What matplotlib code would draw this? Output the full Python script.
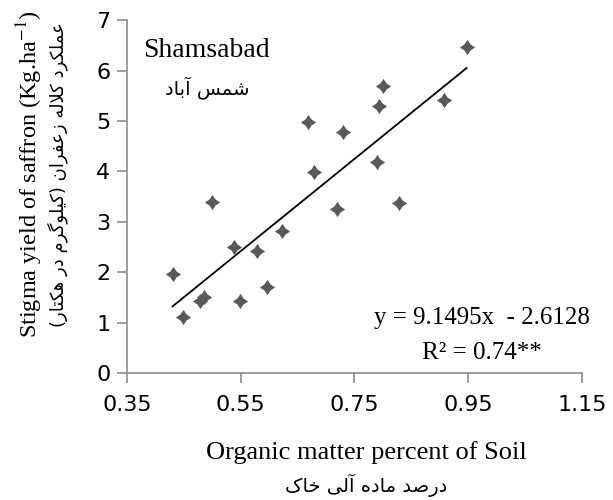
import matplotlib
matplotlib.use("Agg")
import matplotlib.pyplot as plt
import numpy as np
from matplotlib.path import Path

# organic matter (%) vs stigma yield
om = [0.430, 0.448, 0.478, 0.486, 0.500, 0.539, 0.549, 0.579, 0.597, 0.622,
      0.668, 0.678, 0.720, 0.730, 0.789, 0.793, 0.800, 0.828, 0.907, 0.947]
yld = [1.96, 1.12, 1.42, 1.51, 3.40, 2.51, 1.43, 2.43, 1.71, 2.82,
       4.98, 3.99, 3.25, 4.79, 4.19, 5.30, 5.69, 3.37, 5.42, 6.47]
slope = 9.1495
icept = -2.6128
xticks = [0.35, 0.55, 0.75, 0.95, 1.15]
yticks = [0, 1, 2, 3, 4, 5, 6, 7]

# persian strings, pre-shaped (presentation forms, visual order)
fa_site = "\uFEA9\uFE8E\uFE91\uFE81 \uFEB2\uFEE4\uFEB7"
fa_x = ("\uFB8E\uFE8E\uFEA7 \uFEF0\uFEDF\uFE81 \uFEE9\uFEA9\uFE8E\uFEE3 "
        "\uFEAA\uFEBB\uFEAD\uFEA9")
fa_y = ("(\uFEAD\uFE8E\uFE98\uFB91\uFEEB \uFEAD\uFEA9 "
        "\uFEE1\uFEAE\uFB94\uFEEE\uFEE0\uFEF4\uFB90) "
        "\uFEE5\uFE8D\uFEAE\uFED4\uFECB\uFEAF \uFEEA\uFEDF\uFEFC\uFB90 "
        "\uFEA9\uFEAE\uFB91\uFEE0\uFEE4\uFECB")

plt.rcParams['font.family'] = ['DejaVu Sans']
plt.rcParams['mathtext.fontset'] = 'stix'
serif = ['Liberation Serif', 'DejaVu Serif']

star = Path([(0, 1), (0.4, 0.4), (1, 0), (0.4, -0.4), (0, -1),
             (-0.4, -0.4), (-1, 0), (-0.4, 0.4), (0, 1)])

fig = plt.figure(figsize=(6.13, 5), dpi=100)
ax = fig.add_axes([0.2072, 0.254, 0.7422, 0.7054])

ax.scatter(om, yld, marker=star, s=120, color='#595959', zorder=3, linewidths=0)
xf = np.array([min(om), max(om)])
ax.plot(xf, slope * xf + icept, color='black', lw=1.3, zorder=2)

ax.set_xlim(0.35, 1.15)
ax.set_ylim(0, 7)
ax.set_xticks(xticks)
ax.set_xticklabels(["%.2f" % t for t in xticks])
ax.set_yticks(yticks)
for s in ['top', 'right']:
    ax.spines[s].set_visible(False)
for s in ['left', 'bottom']:
    ax.spines[s].set_color('#8c8c8c')
    ax.spines[s].set_linewidth(1.2)
ax.tick_params(direction='out', length=7, width=1.2, color='#8c8c8c',
               labelsize=16, pad=5)
ax.tick_params(axis='x', pad=9)

ax.text(0.378, 6.41, "Shamsabad", family=serif, fontsize=20, va='center')
ax.text(0.491, 5.67, fa_site, family=['DejaVu Sans'], fontsize=14,
        ha='center', va='center')
ax.text(0.974, 1.09, "y = 9.1495x  - 2.6128", family=serif, fontsize=18,
        ha='center', va='center')
ax.text(0.974, 0.40, "R² = 0.74**", family=serif, fontsize=18,
        ha='center', va='center')

fig.text(366 / 613, 1 - 453 / 500, "Organic matter percent of Soil",
         family=serif, fontsize=19, ha='center', va='center')
fig.text(366 / 613, 1 - 485 / 500, fa_x, family=['DejaVu Sans'], fontsize=14,
         ha='center', va='center')
fig.text(30 / 613, 1 - 174 / 500, "Stigma yield of saffron (Kg.ha$^{-1}$)",
         family=serif, fontsize=17.5, rotation=90, ha='center', va='center')
fig.text(58 / 613, 1 - 175 / 500, fa_y, family=['DejaVu Sans'], fontsize=13,
         rotation=90, ha='center', va='center')

fig.savefig("out.png", dpi=100)
